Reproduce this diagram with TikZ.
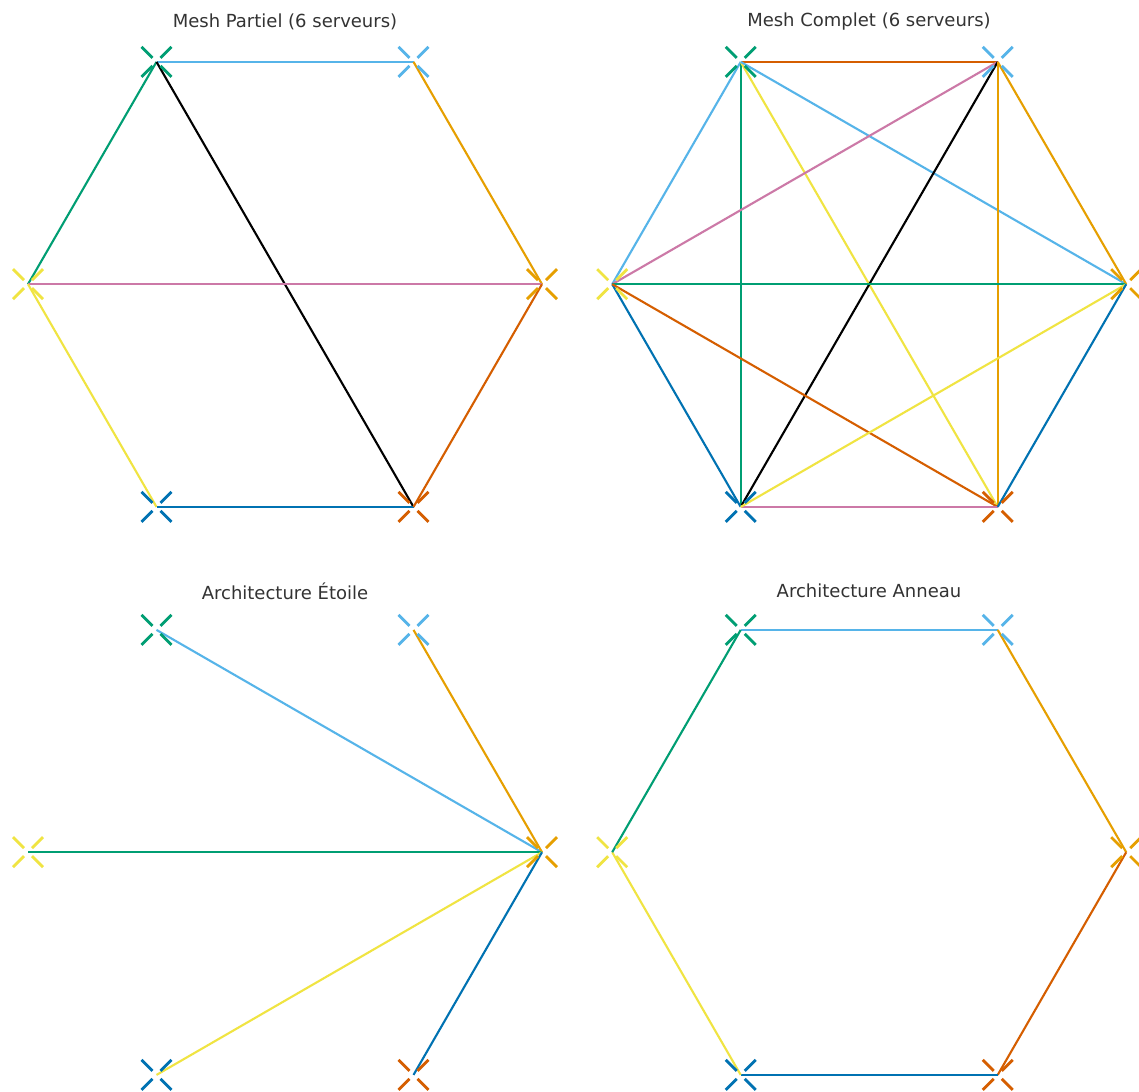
\documentclass[tikz,border=0pt]{standalone}
\usepackage{fontspec}
\setmainfont{DejaVu Sans}
\definecolor{cgreen}{HTML}{009E73}
\definecolor{csky}{HTML}{56B4E9}
\definecolor{corange}{HTML}{E69F00}
\definecolor{cverm}{HTML}{D55E00}
\definecolor{cblue}{HTML}{0072B2}
\definecolor{cyellow}{HTML}{F0E442}
\definecolor{cpink}{HTML}{CC79A7}
\definecolor{cblack}{HTML}{000000}
\definecolor{titlegray}{HTML}{333333}
\newcommand\hexnodes[3]{%
  \node[vtx] (#1tl) at (#2-128.5,#3-222.3) {};
  \node[vtx] (#1tr) at (#2+128.5,#3-222.3) {};
  \node[vtx] (#1r)  at (#2+257,#3) {};
  \node[vtx] (#1br) at (#2+128.5,#3+222.7) {};
  \node[vtx] (#1bl) at (#2-128.5,#3+222.7) {};
  \node[vtx] (#1l)  at (#2-257,#3) {};
}
\newcommand\xmk[2]{%
  \foreach \sx/\sy in {1/1,1/-1,-1/1,-1/-1}
    \draw[mk,#2] ([shift={(4*\sx,4*\sy)}]#1.center) -- ([shift={(15*\sx,15*\sy)}]#1.center);
}
\newcommand\hexmarks[1]{%
  \xmk{#1tl}{cgreen}\xmk{#1tr}{csky}\xmk{#1r}{corange}
  \xmk{#1br}{cverm}\xmk{#1bl}{cblue}\xmk{#1l}{cyellow}
}
\begin{document}
\begin{tikzpicture}[x=1pt,y=-1pt,
  vtx/.style={inner sep=0pt,minimum size=0pt,outer sep=0pt},
  edge/.style={line width=2.1pt},
  mk/.style={line width=2.8pt},
  ttl/.style={font=\fontsize{18}{21}\selectfont, text=titlegray}]
\useasboundingbox[fill=white] (0,0) rectangle (1139,1091);
\hexnodes{a}{285}{284.2}
\hexnodes{b}{869.2}{284.2}
\hexnodes{c}{285}{852.2}
\hexnodes{d}{869.2}{852.2}
\node[ttl] (ta) at (285,22) {Mesh Partiel (6 serveurs)};
\node[ttl] (tb) at (869,22) {Mesh Complet (6 serveurs)};
\node[ttl] (tc) at (285,591) {Architecture Étoile};
\node[ttl] (td) at (869,591) {Architecture Anneau};
% panel 1: partial mesh
\draw[edge,cgreen] (atl) -- (al);
\draw[edge,csky] (atl) -- (atr);
\draw[edge,cblack] (atl) -- (abr);
\draw[edge,corange] (atr) -- (ar);
\draw[edge,cpink] (al) -- (ar);
\draw[edge,cyellow] (al) -- (abl);
\draw[edge,cblue] (abl) -- (abr);
\draw[edge,cverm] (ar) -- (abr);
% panel 2: full mesh
\draw[edge,cverm] (btl) -- (btr);
\draw[edge,csky] (btl) -- (bl);
\draw[edge,cgreen] (btl) -- (bbl);
\draw[edge,cyellow] (btl) -- (bbr);
\draw[edge,csky] (btl) -- (br);
\draw[edge,cpink] (btr) -- (bl);
\draw[edge,cblack] (btr) -- (bbl);
\draw[edge,corange] (btr) -- (bbr);
\draw[edge,corange] (btr) -- (br);
\draw[edge,cgreen] (bl) -- (br);
\draw[edge,cblue] (bl) -- (bbl);
\draw[edge,cverm] (bl) -- (bbr);
\draw[edge,cpink] (bbl) -- (bbr);
\draw[edge,cyellow] (bbl) -- (br);
\draw[edge,cblue] (bbr) -- (br);
% panel 3: star
\draw[edge,csky] (ctl) -- (cr);
\draw[edge,corange] (ctr) -- (cr);
\draw[edge,cgreen] (cl) -- (cr);
\draw[edge,cyellow] (cbl) -- (cr);
\draw[edge,cblue] (cbr) -- (cr);
% panel 4: ring
\draw[edge,csky] (dtl) -- (dtr);
\draw[edge,corange] (dtr) -- (dr);
\draw[edge,cverm] (dr) -- (dbr);
\draw[edge,cblue] (dbr) -- (dbl);
\draw[edge,cyellow] (dbl) -- (dl);
\draw[edge,cgreen] (dl) -- (dtl);
% markers
\hexmarks{a}\hexmarks{b}\hexmarks{c}\hexmarks{d}
\end{tikzpicture}
\end{document}
